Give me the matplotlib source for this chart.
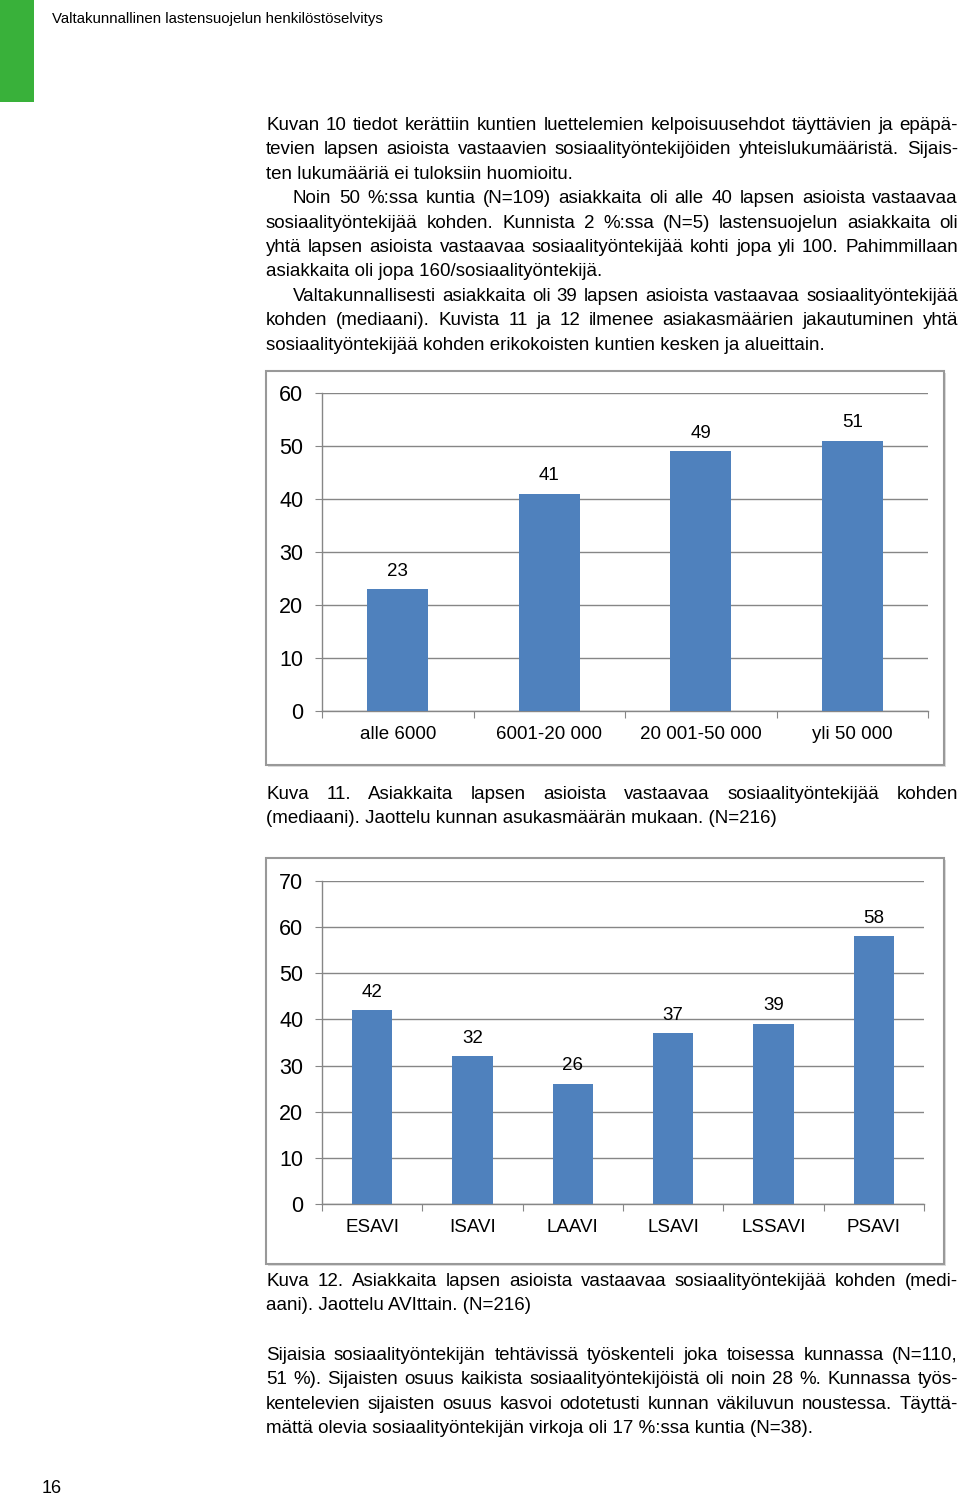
import matplotlib.pyplot as plt
from matplotlib.patches import Rectangle

W, H = 960, 1495
FONT = "Liberation Sans"
BAR_COLOR = "#4f81bd"
GRID_COLOR = "#868686"

size_cats = ["alle 6000", "6001-20 000", "20 001-50 000", "yli 50 000"]
size_vals = [23, 41, 49, 51]

avi_cats = ["ESAVI", "ISAVI", "LAAVI", "LSAVI", "LSSAVI", "PSAVI"]
avi_vals = [42, 32, 26, 37, 39, 58]

header = "Valtakunnallinen lastensuojelun henkilöstöselvitys"
page_no = "16"

# (text, justified, indented)
para1 = [
    ("Kuvan 10 tiedot kerättiin kuntien luettelemien kelpoisuusehdot täyttävien ja epäpä-", True, False),
    ("tevien lapsen asioista vastaavien sosiaalityöntekijöiden yhteislukumääristä. Sijais-", True, False),
    ("ten lukumääriä ei tuloksiin huomioitu.", False, False),
    ("Noin 50 %:ssa kuntia (N=109) asiakkaita oli alle 40 lapsen asioista vastaavaa", True, True),
    ("sosiaalityöntekijää kohden. Kunnista 2 %:ssa (N=5) lastensuojelun asiakkaita oli", True, False),
    ("yhtä lapsen asioista vastaavaa sosiaalityöntekijää kohti jopa yli 100. Pahimmillaan", True, False),
    ("asiakkaita oli jopa 160/sosiaalityöntekijä.", False, False),
    ("Valtakunnallisesti asiakkaita oli 39 lapsen asioista vastaavaa sosiaalityöntekijää", True, True),
    ("kohden (mediaani). Kuvista 11 ja 12 ilmenee asiakasmäärien jakautuminen yhtä", True, False),
    ("sosiaalityöntekijää kohden erikokoisten kuntien kesken ja alueittain.", False, False),
]
caption1 = [
    ("Kuva 11. Asiakkaita lapsen asioista vastaavaa sosiaalityöntekijää kohden", True, False),
    ("(mediaani). Jaottelu kunnan asukasmäärän mukaan. (N=216)", False, False),
]
caption2 = [
    ("Kuva 12. Asiakkaita lapsen asioista vastaavaa sosiaalityöntekijää kohden (medi-", True, False),
    ("aani). Jaottelu AVIttain. (N=216)", False, False),
]
para2 = [
    ("Sijaisia sosiaalityöntekijän tehtävissä työskenteli joka toisessa kunnassa (N=110,", True, False),
    ("51 %). Sijaisten osuus kaikista sosiaalityöntekijöistä oli noin 28 %. Kunnassa työs-", True, False),
    ("kentelevien sijaisten osuus kasvoi odotetusti kunnan väkiluvun noustessa. Täyttä-", True, False),
    ("mättä olevia sosiaalityöntekijän virkoja oli 17 %:ssa kuntia (N=38).", False, False),
]

plt.rcParams["font.family"] = [FONT, "DejaVu Sans"]

fig = plt.figure(figsize=(W / 100, H / 100), dpi=100)
renderer = fig.canvas.get_renderer()


def fx(px):
    return px / W


def fy(py):
    return 1 - py / H


def write_lines(lines, y0, step, left=266, right=958, indent=27, size=13.5):
    # y0 is the baseline of the first line, in pixels from the top
    for i, (line, justify, indented) in enumerate(lines):
        y = fy(y0 + i * step)
        x0 = left + (indent if indented else 0)
        if not justify:
            fig.text(fx(x0), y, line, fontsize=size, va="baseline", ha="left")
            continue
        words = line.split(" ")
        texts = [fig.text(0, y, w, fontsize=size, va="baseline", ha="left") for w in words]
        widths = [t.get_window_extent(renderer).width for t in texts]
        gap = (right - x0 - sum(widths)) / (len(words) - 1)
        x = x0
        for t, w in zip(texts, widths):
            t.set_x(fx(x))
            x += w + gap


def chart_box(x0, y0, x1, y1):
    fig.patches.append(Rectangle((fx(x0 + 2), fy(y1 + 2)), fx(x1 - x0), (y1 - y0) / H,
                                 transform=fig.transFigure, facecolor="#dcdcdc",
                                 edgecolor="none", zorder=-2))
    fig.patches.append(Rectangle((fx(x0), fy(y1)), fx(x1 - x0), (y1 - y0) / H,
                                 transform=fig.transFigure, facecolor="white",
                                 edgecolor="#999999", linewidth=1.5, zorder=-1))


def bar_chart(rect, cats, vals, ymax):
    x0, y0, x1, y1 = rect
    ax = fig.add_axes([fx(x0), fy(y1), fx(x1 - x0), (y1 - y0) / H])
    ax.set_zorder(1)
    ax.set_facecolor("none")
    n = len(cats)
    pos = list(range(n))
    ax.bar(pos, vals, width=0.4, color=BAR_COLOR, zorder=3)
    for p, v in zip(pos, vals):
        ax.annotate(str(v), (p, v), xytext=(0, 13), textcoords="offset points",
                    ha="center", va="center", fontsize=13.5)
    ax.set_xlim(-0.5, n - 0.5)
    ax.set_ylim(0, ymax)
    ax.set_yticks(range(0, ymax + 1, 10))
    ax.yaxis.grid(True, color=GRID_COLOR, linewidth=1.0)
    ax.set_axisbelow(True)
    ax.set_xticks([i - 0.5 for i in range(n + 1)])
    ax.set_xticklabels([])
    ax.set_xticks(pos, minor=True)
    ax.set_xticklabels(cats, minor=True, fontsize=13.5)
    ax.tick_params(axis="x", which="major", length=5, color=GRID_COLOR, direction="out")
    ax.tick_params(axis="x", which="minor", length=0, pad=11)
    ax.tick_params(axis="y", length=5, color=GRID_COLOR, labelsize=15.5, pad=8.5)
    for s in ["top", "right"]:
        ax.spines[s].set_visible(False)
    for s in ["left", "bottom"]:
        ax.spines[s].set_color(GRID_COLOR)
        ax.spines[s].set_linewidth(1.0)
    ax.spines["left"].set_zorder(4)
    return ax


# page decorations
fig.patches.append(Rectangle((0, fy(102)), fx(34), 102 / H, transform=fig.transFigure,
                             facecolor="#39b13a", edgecolor="none"))
fig.text(fx(52), fy(23), header, fontsize=10.8, va="baseline", ha="left")
fig.text(fx(42), fy(1493), page_no, fontsize=13, va="baseline", ha="left")

write_lines(para1, 130, 24.4)

chart_box(266, 371, 944, 765)
bar_chart((322, 393, 928, 711), size_cats, size_vals, 60)
write_lines(caption1, 799, 24.4)

chart_box(266, 858, 944, 1264)
bar_chart((322, 881, 924, 1204), avi_cats, avi_vals, 70)
write_lines(caption2, 1286, 24.4)

write_lines(para2, 1360, 24.4)

fig.savefig("out.png", dpi=100)
